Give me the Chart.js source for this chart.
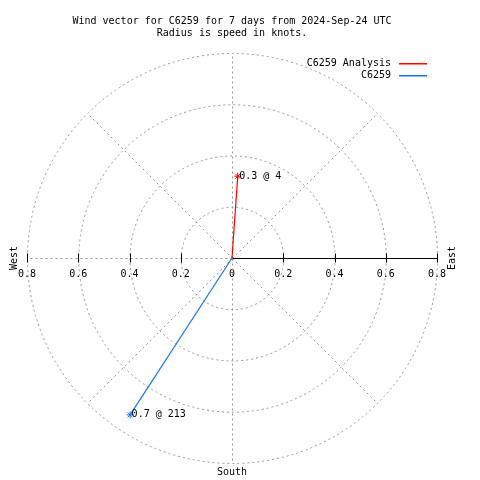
<!DOCTYPE html>
<html>
<head>
<meta charset="utf-8">
<script src="https://cdn.jsdelivr.net/npm/chart.js@4"></script>
<style>
  html, body { margin: 0; padding: 0; background: #fff; }
</style>
</head>
<body>
<canvas id="myChart" width="480" height="480"></canvas>
<script>
// wind vectors: speed in knots, direction in degrees (from north, clockwise)
const seriesNames = ['C6259 Analysis', 'C6259'];
const speeds = [0.32, 0.73];
const directions = [4, 213];

// polar grid
const rings = [0.2, 0.4, 0.6, 0.8];
const spokeAngles = [0, 45, 90, 135, 180, 225, 270, 315];
const compassNames = ['West', 'East', 'South'];

const titleLines = [
  'Wind vector for C6259 for 7 days from 2024-Sep-24 UTC',
  'Radius is speed in knots.'
];

const FONT = "'DejaVu Sans Mono', 'Liberation Mono', monospace";
const colors = ['#ff0000', '#1a74e6'];
const gridColor = '#939393';

function toXY(r, deg) {
  const a = deg * Math.PI / 180;
  return { x: r * Math.sin(a), y: r * Math.cos(a) };
}

function fmtTick(v) {
  const s = Math.abs(v).toFixed(1);
  return s === '0.0' ? '0' : s;
}

const datasets = seriesNames.map((name, i) => ({
  label: name,
  data: [{ x: 0, y: 0 }, toXY(speeds[i], directions[i])],
  showLine: true,
  borderColor: colors[i],
  backgroundColor: colors[i],
  borderWidth: 1.2,
  pointStyle: 'star',
  pointRadius: [0, 3.5],
  pointBorderWidth: 1,
  pointHoverRadius: 0,
  fill: false
}));

// gnuplot-like polar grid, axis, point labels and key
const polarGrid = {
  id: 'polarGrid',
  beforeDatasetsDraw(chart) {
    const { ctx, scales: { x, y } } = chart;
    const cx = Math.round(x.getPixelForValue(0)) + 0.5;
    const cy = Math.round(y.getPixelForValue(0)) + 0.5;
    const unit = x.getPixelForValue(1) - x.getPixelForValue(0);
    const rMax = rings[rings.length - 1] * unit;
    ctx.save();
    ctx.strokeStyle = gridColor;
    ctx.lineWidth = 1;
    ctx.setLineDash([2, 3]);
    rings.forEach(r => {
      ctx.beginPath();
      ctx.arc(cx, cy, r * unit, 0, 2 * Math.PI);
      ctx.stroke();
    });
    spokeAngles.forEach(a => {
      const rad = a * Math.PI / 180;
      ctx.beginPath();
      ctx.moveTo(cx, cy);
      ctx.lineTo(cx + rMax * Math.sin(rad), cy - rMax * Math.cos(rad));
      ctx.stroke();
    });
    ctx.setLineDash([]);
    // solid axis toward east
    ctx.strokeStyle = '#000';
    ctx.beginPath();
    ctx.moveTo(cx, cy);
    ctx.lineTo(Math.round(x.getPixelForValue(x.max)) + 0.5, cy);
    ctx.stroke();
    // tick marks
    x.ticks.forEach(t => {
      if (Math.abs(t.value) < 1e-9) return;
      const px = Math.round(x.getPixelForValue(t.value)) + 0.5;
      ctx.beginPath();
      ctx.moveTo(px, cy - 5);
      ctx.lineTo(px, cy + 4);
      ctx.stroke();
    });
    ctx.restore();
  },
  afterDatasetsDraw(chart) {
    const { ctx, chartArea, scales: { x, y } } = chart;
    ctx.save();
    ctx.font = '10px ' + FONT;
    ctx.fillStyle = '#000';
    ctx.textBaseline = 'middle';

    // value labels at the tips
    chart.data.datasets.forEach((ds, i) => {
      const p = ds.data[1];
      const px = x.getPixelForValue(p.x);
      const py = y.getPixelForValue(p.y);
      ctx.textAlign = 'left';
      ctx.fillText(speeds[i].toFixed(1) + ' @ ' + directions[i], px + 1.5, py);
    });

    // compass labels
    const cy = y.getPixelForValue(0);
    const cx = x.getPixelForValue(0);
    ctx.textAlign = 'center';
    [[chartArea.left - 13, cy], [chartArea.right + 15, cy]].forEach((pos, k) => {
      ctx.save();
      ctx.translate(pos[0], pos[1]);
      ctx.rotate(-Math.PI / 2);
      ctx.fillText(compassNames[k], 0, 0);
      ctx.restore();
    });
    ctx.fillText(compassNames[2], cx, chartArea.bottom + 9);

    // key: label text, then a short sample of the line colour
    seriesNames.forEach((name, i) => {
      const ly = Math.round(chartArea.top + 10 + i * 12.3);
      ctx.textAlign = 'right';
      ctx.fillStyle = '#000';
      ctx.fillText(name, chartArea.right - 46, ly + 0.5);
      ctx.fillStyle = colors[i];
      ctx.fillRect(chartArea.right - 38, ly, 28, 1.5);
    });
    ctx.restore();
  }
};

const ctx = document.getElementById('myChart').getContext('2d');
const config = {
  type: 'scatter',
  data: { datasets: datasets },
  options: {
    responsive: false,
    animation: false,
    events: [],
    layout: { padding: { left: 27, right: 43, top: 5, bottom: 17 } },
    plugins: {
      legend: { display: false },
      tooltip: { enabled: false },
      title: {
        display: true,
        fullSize: false,
        text: titleLines,
        color: '#000',
        font: { family: FONT, size: 10, weight: 'normal', lineHeight: 1.25 },
        padding: { top: 10, bottom: 13 }
      }
    },
    scales: {
      x: {
        type: 'linear',
        min: -0.8,
        max: 0.8,
        position: { y: 0 },
        grid: { display: false, drawTicks: false },
        border: { display: false },
        ticks: {
          stepSize: 0.2,
          padding: 10,
          color: '#000',
          maxRotation: 0,
          autoSkip: false,
          font: { family: FONT, size: 10 },
          callback: v => fmtTick(v)
        }
      },
      y: {
        type: 'linear',
        min: -0.8,
        max: 0.8,
        display: false
      }
    }
  },
  plugins: [polarGrid]
};
const c = new Chart(ctx, config);
</script>
</body>
</html>
